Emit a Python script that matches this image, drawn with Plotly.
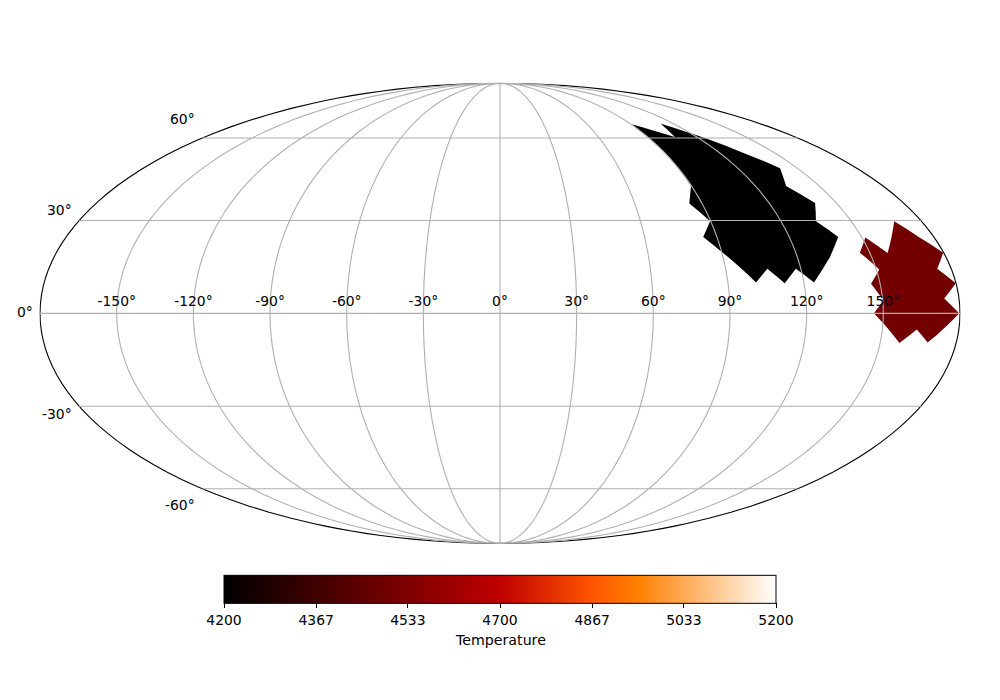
import json
import plotly.graph_objects as go

FONT = "DejaVu Sans"
FS = 13.9

# Polygon outlines, degrees
black_lon = [90.4, 98.7, 106.6, 111.2, 117.8, 124.4, 132.7, 141.3, 134.4, 140.5, 134.9, 140.3, 133.2, 124.0, 118.0, 112.4, 106.6, 101.1, 89.5, 84.3, 89.7, 84.3, 89.7, 90.0, 89.9]
black_lat = [65.8, 63.1, 60.4, 66.1, 62.9, 59.7, 54.1, 48.3, 41.8, 35.9, 29.7, 24.5, 18.0, 9.8, 14.2, 9.6, 14.2, 9.8, 20.1, 24.5, 29.7, 35.7, 41.8, 50.6, 58.4]
red_lon = [168.3, 173.7, 179.8, 174.4, 179.9, 174.2, 179.7, 168.7, 163.5, 157.6, 150.9, 146.3, 150.2, 146.4, 151.2, 146.0, 151.4, 157.2]
red_lat = [29.7, 24.5, 19.4, 14.2, 9.6, 4.7, 0.0, -9.3, -5.1, -9.4, -3.8, 0.0, 4.1, 9.4, 14.0, 19.4, 24.3, 19.3]
region_ids = ["a", "b"]
region_temps = [4200, 4500]

lon_ticks = [-150, -120, -90, -60, -30, 0, 30, 60, 90, 120, 150]
lat_ticks = [-60, -30, 0, 30, 60]
lat_label_x = [189, 66, 27, 66, 189]
lat_label_y = [497, 406, 304, 202, 111]
lon_label_lat = 1.3
parallel_lons = list(range(-180, 181, 5))
meridian_lats = list(range(-90, 91, 5))
cbar_ticks = [4200, 4367, 4533, 4700, 4867, 5033, 5200]

heat = [[0, "rgb(0,0,0)"], [0.5, "rgb(191,0,0)"], [2 / 3, "rgb(255,85,0)"],
        [0.75, "rgb(255,128,0)"], [1, "rgb(255,255,255)"]]


def ring(lon, lat):
    pts = [[a, b] for a, b in zip(lon, lat)]
    return pts + [pts[0]]


geojson = {"type": "FeatureCollection", "features": [
    {"type": "Feature", "id": "a", "properties": {},
     "geometry": {"type": "Polygon", "coordinates": [ring(black_lon, black_lat)]}},
    {"type": "Feature", "id": "b", "properties": {},
     "geometry": {"type": "Polygon", "coordinates": [ring(red_lon, red_lat)]}},
]}

fig = go.Figure()
fig.add_trace(go.Choropleth(
    geojson=geojson, locations=region_ids, z=region_temps,
    colorscale=heat, zmin=4200, zmax=5200, marker_line_width=0,
    hoverinfo="skip",
    colorbar=dict(
        orientation="h", x=0.492, xanchor="center", y=79 / 700, yanchor="bottom",
        xpad=0, ypad=0,
        lenmode="pixels", len=552, thicknessmode="pixels", thickness=28,
        outlinecolor="black", outlinewidth=1,
        ticks="outside", ticklen=5, tickwidth=1, tickcolor="black",
        tickmode="array", tickvals=cbar_ticks, ticktext=[str(t) for t in cbar_ticks],
        tickfont=dict(family=FONT, size=FS, color="black"),
    ),
))

grid_lon, grid_lat = [], []
for t in lat_ticks:
    grid_lon += parallel_lons + [None]
    grid_lat += [t] * len(parallel_lons) + [None]
for t in lon_ticks:
    grid_lon += [t] * len(meridian_lats) + [None]
    grid_lat += meridian_lats + [None]
fig.add_trace(go.Scattergeo(lon=grid_lon, lat=grid_lat, mode="lines",
                            line=dict(color="#b0b0b0", width=1.1),
                            hoverinfo="skip", showlegend=False))
fig.add_trace(go.Scattergeo(lon=lon_ticks, lat=[lon_label_lat] * len(lon_ticks), mode="text",
                            text=[f"{t}°" for t in lon_ticks], textposition="top center",
                            textfont=dict(family=FONT, size=FS, color="black"),
                            hoverinfo="skip", showlegend=False))

for t, px, py in zip(lat_ticks, lat_label_x, lat_label_y):
    fig.add_annotation(text=f"{t}°", x=px / 1000, y=1 - py / 700, xref="paper", yref="paper",
                       xanchor="right", yanchor="middle", showarrow=False,
                       font=dict(family=FONT, size=FS, color="black"))
fig.add_annotation(text="Temperature", x=0.492, y=1 - 632 / 700, xref="paper", yref="paper",
                   xanchor="center", yanchor="middle", showarrow=False,
                   font=dict(family=FONT, size=14.2, color="black"))

fig.update_layout(
    width=1000, height=700, margin=dict(l=0, r=0, t=0, b=0, autoexpand=False),
    paper_bgcolor="white", plot_bgcolor="white", showlegend=False,
    geo=dict(
        domain=dict(x=[0.032, 0.952], y=[1 - 535.5 / 700, 1 - 75.2 / 700]),
        projection_type="mollweide",
        showland=False, showocean=False, showlakes=False, showrivers=False,
        showcountries=False, showcoastlines=False, showsubunits=False,
        showframe=True, framecolor="black", framewidth=1.1, bgcolor="white",
        lonaxis=dict(showgrid=False, range=[-180, 180]),
        lataxis=dict(showgrid=False, range=[-90, 90]),
    ),
)
# No base-map layer is drawn, so an empty topology, inlined, stands in for the one normally fetched.
empty_topology = {"type": "Topology", "objects": {}, "arcs": []}
topo_url = "data:application/json," + json.dumps(empty_topology, separators=(",", ":")) + "#"
fig.write_html("out.html", config={"topojsonURL": topo_url})
